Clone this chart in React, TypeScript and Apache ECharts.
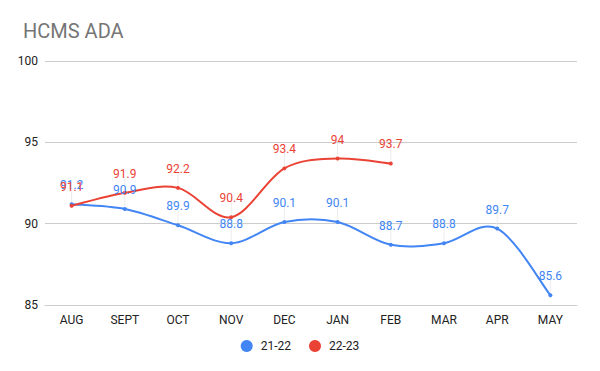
import React, { useEffect, useRef } from "react";
import * as echarts from "echarts";

const categories = ["AUG", "SEPT", "OCT", "NOV", "DEC", "JAN", "FEB", "MAR", "APR", "MAY"];
const series2122 = [91.2, 90.9, 89.9, 88.8, 90.1, 90.1, 88.7, 88.8, 89.7, 85.6];
const series2223 = [91.1, 91.9, 92.2, 90.4, 93.4, 94, 93.7];
const yTicks = { min: 85, max: 100, interval: 5 };

const FONT = "Roboto, Arial, sans-serif";
const BLUE = "#4285F4";
const RED = "#EA4335";

function curveSeries(name: string, values: number[], color: string) {
  return {
    name: name + "-curve",
    type: "custom",
    silent: true,
    data: values.map((v, i) => [i, v]),
    encode: { x: 0, y: 1 },
    renderItem: (params: any, api: any) => {
      const i = params.dataIndex;
      const n = values.length;
      const pt = (k: number) => {
        const kk = Math.max(0, Math.min(n - 1, k));
        return api.coord([kk, values[kk]]);
      };
      const p1 = pt(i);
      const children: any[] = [
        {
          type: "line",
          shape: { x1: p1[0], y1: p1[1] - 3, x2: p1[0], y2: p1[1] - 16 },
          style: { stroke: "#ececec", lineWidth: 1 },
        },
      ];
      if (i < n - 1) {
        const p0 = pt(i - 1);
        const p2 = pt(i + 1);
        const p3 = pt(i + 2);
        const t = 1 / 6;
        children.push({
          type: "bezierCurve",
          shape: {
            x1: p1[0],
            y1: p1[1],
            cpx1: p1[0] + (p2[0] - p0[0]) * t,
            cpy1: p1[1] + (p2[1] - p0[1]) * t,
            cpx2: p2[0] - (p3[0] - p1[0]) * t,
            cpy2: p2[1] - (p3[1] - p1[1]) * t,
            x2: p2[0],
            y2: p2[1],
          },
          style: { stroke: color, lineWidth: 2, fill: null },
        });
      }
      return { type: "group", children };
    },
  };
}

function pointSeries(name: string, values: number[], color: string) {
  return {
    name,
    type: "line",
    data: values,
    symbol: "circle",
    symbolSize: 4,
    itemStyle: { color },
    lineStyle: { color, width: 0, opacity: 0 },
    label: {
      show: true,
      position: "top",
      distance: 11,
      color,
      fontSize: 12,
      fontFamily: FONT,
    },
  };
}

export default function App() {
  const ref = useRef<HTMLDivElement>(null);
  useEffect(() => {
    if (!ref.current) return;
    const chart = echarts.init(ref.current, undefined, { renderer: "svg" });
    chart.setOption({
      animation: false,
      textStyle: { fontFamily: FONT },
      title: {
        text: "HCMS ADA",
        left: 18,
        top: 16,
        textStyle: { color: "#757575", fontSize: 20, fontWeight: "normal", fontFamily: FONT },
      },
      legend: {
        bottom: 14,
        left: "center",
        icon: "circle",
        itemWidth: 12,
        itemHeight: 12,
        itemGap: 18,
        textStyle: { color: "#222222", fontSize: 12, fontFamily: FONT, padding: [0, 0, 0, 3] },
        data: [
          { name: "21-22", itemStyle: { color: BLUE } },
          { name: "22-23", itemStyle: { color: RED } },
        ],
      },
      grid: { left: 45, right: 23, top: 61, bottom: 66, containLabel: false },
      xAxis: {
        type: "category",
        data: categories,
        boundaryGap: true,
        axisLine: { lineStyle: { color: "#cccccc" } },
        axisTick: { show: false },
        axisLabel: { color: "#222222", fontSize: 12, margin: 9, fontFamily: FONT },
      },
      yAxis: {
        type: "value",
        min: yTicks.min,
        max: yTicks.max,
        interval: yTicks.interval,
        axisLine: { show: false },
        axisTick: { show: false },
        axisLabel: { color: "#222222", fontSize: 12, margin: 7, fontFamily: FONT },
        splitLine: { lineStyle: { color: "#cccccc" } },
      },
      series: [
        curveSeries("21-22", series2122, BLUE),
        curveSeries("22-23", series2223, RED),
        pointSeries("21-22", series2122, BLUE),
        pointSeries("22-23", series2223, RED),
      ],
    });
    return () => chart.dispose();
  }, []);
  return <div ref={ref} style={{ width: 600, height: 371, position: "absolute", left: 0, top: 0, background: "#fff" }} />;
}
